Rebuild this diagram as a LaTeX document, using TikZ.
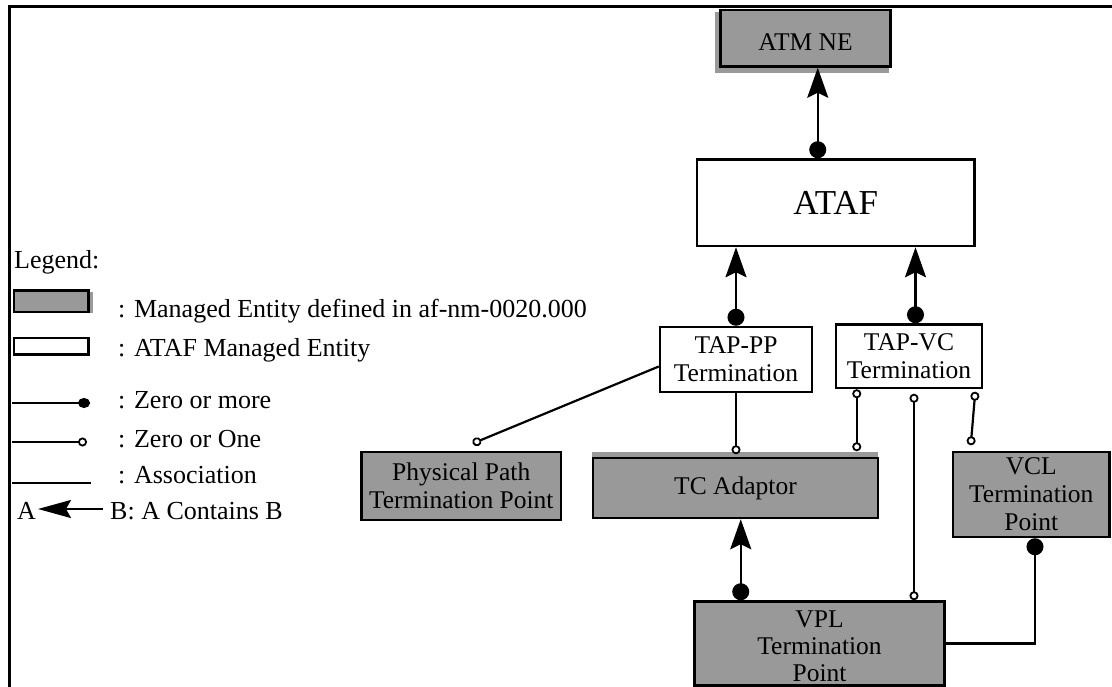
\documentclass[tikz,border=0pt]{standalone}
\usepackage{fontspec}
\setmainfont{Liberation Serif}
\usetikzlibrary{arrows.meta,backgrounds}
\definecolor{boxgray}{RGB}{153,153,153}

\tikzset{
  many/.tip={Circle[length=17pt,width=17pt]},
  zo/.tip={Circle[open,length=9pt,width=9pt,line width=1.8pt]},
  cont/.tip={Stealth[length=30pt,width=21pt,inset=5pt]},
}

\begin{document}
\begin{tikzpicture}[x=1pt,y=-1pt,
  boxtext/.style={inner sep=0pt, align=center,
    font=\fontsize{25.5}{28}\selectfont},
  entity/.style={boxtext, draw, line width=2.5pt},
  mgd/.style={entity, fill=boxgray},
  atafbox/.style={entity, fill=white},
  conn/.style={line width=2.2pt},
  contain/.style={conn, many-cont},
  legtext/.style={anchor=base west, inner sep=0pt,
    font=\fontsize{26}{28}\selectfont},
]
\useasboundingbox (0,0) rectangle (1112,687);

% frame
\draw[line width=3pt] (1112,6.5) -- (9.5,6.5) -- (9.5,687);

% entities
\node[mgd, minimum width=170pt, minimum height=56.5pt] (atmne) at (805.5,38.25) {};
\node[boxtext] (atmnetext) at ([yshift=-4pt]atmne.center) {ATM NE};
\node[atafbox, minimum width=277.5pt, minimum height=86.5pt,
      font=\fontsize{35}{38}\selectfont] (ataf) at (835.75,202.75) {ATAF};
\node[atafbox, minimum width=152pt, minimum height=65pt] (tappp) at (736,359.5) {TAP-PP\\Termination};
\node[atafbox, minimum width=146pt, minimum height=63.5pt] (tapvc) at (909,356.25) {TAP-VC\\Termination};
\node[mgd, minimum width=199.5pt, minimum height=68pt] (phys) at (461.25,486) {Physical Path\\Termination Point};
\node[mgd, minimum width=285pt, minimum height=60pt] (tc) at (735.5,488) {TC Adaptor};
\node[mgd, minimum width=156.5pt, minimum height=85pt] (vcl) at (1031.25,494.5) {VCL\\Termination\\Point};
\node[mgd, minimum width=250pt, minimum height=84pt] (vpl) at (819.5,643.5) {};
\node[boxtext, font=\fontsize{25.5}{27}\selectfont] (vpltext) at ([yshift=-3pt]vpl.center) {VPL\\Termination\\Point};

% grey fringes behind some boxes
\begin{scope}[on background layer]
  \fill[boxgray] ([xshift=-4pt,yshift=-3pt]atmne.north west) rectangle ([xshift=-3pt,yshift=-5pt]atmne.south east);
  \fill[boxgray] ([yshift=5pt]tc.north west) rectangle ([xshift=-1pt,yshift=-2pt]tc.north east);
\end{scope}

% containment
\coordinate (a1) at ([xshift=122pt]ataf.north west);
\draw[contain] (a1) -- (a1 |- atmne.south);
\draw[contain] (tappp.north) -- (tappp.north |- ataf.south);
\coordinate (a3) at ([xshift=6.5pt]tapvc.north);
\draw[contain] (a3) -- (a3 |- ataf.south);
\coordinate (a4) at ([xshift=47.5pt]vpl.north west);
\draw[contain] (a4) -- (a4 |- tc.south);

% associations
\coordinate (s1) at ([yshift=-7pt]tappp.west);
\coordinate (e1) at ([xshift=11.5pt,yshift=7.3pt]phys.north);
\draw[conn,-zo] (s1) -- (e1);
\coordinate (e2) at ([yshift=2.5pt]tc.north);
\draw[conn,-zo] (tappp.south) -- (tappp.south |- e2);
\coordinate (s3) at ([xshift=22pt]tapvc.south west);
\coordinate (e3) at ([yshift=5.5pt]tc.north);
\draw[conn,zo-zo] (s3) -- (s3 |- e3);
\coordinate (s4) at ([xshift=5pt,yshift=-4.5pt]tapvc.south);
\draw[conn,zo-zo] (s4) -- (s4 |- vpl.north);
\coordinate (s5) at ([xshift=-8pt,yshift=-2.5pt]tapvc.south east);
\coordinate (e5) at ([xshift=19pt,yshift=5.5pt]vcl.north west);
\draw[conn,zo-zo] (s5) -- (e5);
\coordinate (e6) at ([xshift=3.75pt]vcl.south);
\draw[conn,-many] (vpl.east) -| (e6);

% legend
\node[legtext] (leg) at (14,268.5) {Legend:};
\begin{scope}[on background layer]
  \fill[boxgray] (88,292) rectangle (93,313);
\end{scope}
\node[draw, fill=boxgray, line width=2.5pt, minimum width=74.5pt, minimum height=21.5pt, inner sep=0pt] (lgray) at (51.25,301.25) {};
\node[draw, fill=white, line width=2.5pt, minimum width=74.5pt, minimum height=16.5pt, inner sep=0pt] (lwhite) at (51.25,346.25) {};
\node[legtext] (t1) at (118,317) {: Managed Entity defined in af-nm-0020.000};
\node[legtext] (t2) at (118,356.5) {: ATAF Managed Entity};
\node[legtext] (t3) at (118,408) {: Zero or more};
\node[legtext] (t4) at (118,447) {: Zero or One};
\node[legtext] (t5) at (118,483) {: Association};
\node[legtext] (la) at (17,519) {A};
\node[legtext] (lb) at (110,519) {B: A Contains B};

\coordinate (m1) at (12,403);
\coordinate (m2) at (90,403);
\draw[conn,-{Circle[length=12pt,width=10pt]}] (m1) -- (m2);
\coordinate (o1) at (12,442);
\coordinate (o2) at (87,442);
\draw[conn,-zo] (o1) -- (o2);
\coordinate (r1) at (12,483);
\coordinate (r2) at (91,483);
\draw[conn] (r1) -- (r2);
\coordinate (c1) at (103,509);
\coordinate (c2) at (38,509);
\draw[conn,-{Stealth[length=33pt,width=18pt,inset=5pt]}] (c1) -- (c2);
\end{tikzpicture}
\end{document}
